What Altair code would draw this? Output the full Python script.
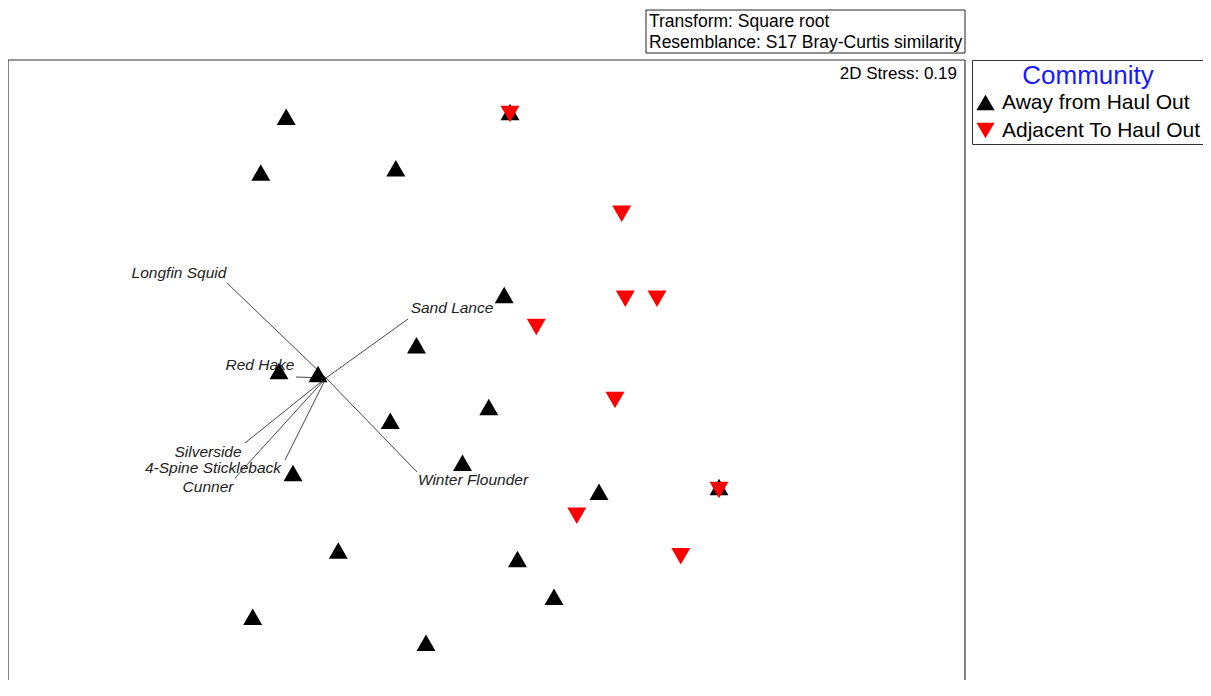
import altair as alt
import pandas as pd

# NMDS coordinates, MDS1 / MDS2
away_x = [-1.009, -1.136, -0.461, 0.11, 0.081, -0.3575, -1.045, -0.85, -0.4885, 0.004,
          -0.1275, -0.975, 0.555, 1.155, -0.7485, 0.1475, 0.33, -1.1765, -0.31]
away_y = [1.2665, 0.9875, 1.0085, 1.29, 0.375, 0.1235, -0.005, -0.02, -0.254, -0.185,
          -0.464, -0.515, -0.6085, -0.585, -0.9025, -0.945, -1.1335, -1.234, -1.364]
adj_x = [0.11, 0.6685, 0.6865, 0.845, 0.2415, 0.635, 1.155, 0.444, 0.964]
adj_y = [1.28, 0.7815, 0.3565, 0.3565, 0.215, -0.15, -0.6, -0.729, -0.931]

groups = ["Away from Haul Out", "Adjacent To Haul Out"]

# Species vectors
vec_names = ["Longfin Squid", "Red Hake", "Silverside", "4-Spine Stickleback",
             "Cunner", "Sand Lance", "Winter Flounder"]
vec_origin = (-0.81, -0.04)
vec_end_x = [-1.305, -0.96, -1.215, -1.015, -1.265, -0.40, -0.355]
vec_end_y = [0.435, -0.035, -0.365, -0.45, -0.54, 0.255, -0.51]
lab_x = [-1.545, -1.14, -1.40, -1.375, -1.40, -0.18, -0.075]
lab_y = [0.485, 0.025, -0.41, -0.49, -0.585, 0.31, -0.55]

stress_text = "2D Stress: 0.19"
info_lines = ["Transform: Square root", "Resemblance: S17 Bray-Curtis similarity"]

x_domain = [-2.4, 2.385]
y_domain = [-1.55, 1.55]

pts = pd.DataFrame({
    "MDS1": away_x + adj_x,
    "MDS2": away_y + adj_y,
    "Community": [groups[0]] * len(away_x) + [groups[1]] * len(adj_x),
})
vecs = pd.DataFrame({
    "name": vec_names,
    "x0": [vec_origin[0]] * len(vec_names),
    "y0": [vec_origin[1]] * len(vec_names),
    "x1": vec_end_x,
    "y1": vec_end_y,
    "lx": lab_x,
    "ly": lab_y,
})
one = alt.Data(values=[{"k": 1}])

FONT = "Liberation Sans"
X = alt.Scale(domain=x_domain, nice=False, zero=False)
Y = alt.Scale(domain=y_domain, nice=False, zero=False)

W, H = 957, 620

frame_l = alt.Chart(one).mark_rule(color="#333", strokeWidth=1.2).encode(
    x=alt.value(0), y=alt.value(0), y2=alt.value(H + 40))
frame_r = alt.Chart(one).mark_rule(color="#333", strokeWidth=1.2).encode(
    x=alt.value(W), y=alt.value(0), y2=alt.value(H + 40))
frame_t = alt.Chart(one).mark_rule(color="#333", strokeWidth=1.2).encode(
    x=alt.value(0), x2=alt.value(W), y=alt.value(0))

vec_lines = alt.Chart(vecs).mark_rule(color="#333", strokeWidth=0.9).encode(
    x=alt.X("x0:Q", scale=X, axis=None),
    y=alt.Y("y0:Q", scale=Y, axis=None),
    x2="x1:Q", y2="y1:Q")

vec_labels = alt.Chart(vecs).mark_text(
    font=FONT, fontSize=15.5, fontStyle="italic", color="#222",
    align="center", baseline="middle").encode(
    x=alt.X("lx:Q", scale=X, axis=None),
    y=alt.Y("ly:Q", scale=Y, axis=None),
    text="name:N")

points = alt.Chart(pts).mark_point(filled=True, opacity=1, size=360, strokeWidth=0).encode(
    x=alt.X("MDS1:Q", scale=X, axis=None),
    y=alt.Y("MDS2:Q", scale=Y, axis=None),
    color=alt.Color("Community:N",
                    scale=alt.Scale(domain=groups, range=["#000000", "#ff0000"]),
                    legend=alt.Legend(title="Community")),
    shape=alt.Shape("Community:N",
                    scale=alt.Scale(domain=groups, range=["triangle-up", "triangle-down"]),
                    legend=alt.Legend(title="Community")),
)

stress = alt.Chart(one).mark_text(
    font=FONT, fontSize=17, color="#000", align="right", baseline="middle",
    text=stress_text).encode(x=alt.value(W - 8), y=alt.value(14))

info_box = alt.Chart(one).mark_rect(fill="white", stroke="#222", strokeWidth=1).encode(
    x=alt.value(638), x2=alt.value(957), y=alt.value(-50), y2=alt.value(-7))
info_t1 = alt.Chart(one).mark_text(
    font=FONT, fontSize=17.5, color="#000", align="left", baseline="middle",
    text=info_lines[0]).encode(x=alt.value(641), y=alt.value(-38))
info_t2 = alt.Chart(one).mark_text(
    font=FONT, fontSize=17.5, color="#000", align="left", baseline="middle",
    text=info_lines[1]).encode(x=alt.value(641), y=alt.value(-17))

chart = alt.layer(
    frame_l, frame_r, frame_t, vec_lines, vec_labels, points, stress,
    info_box, info_t1, info_t2
).properties(
    width=W, height=H,
    autosize=alt.AutoSizeParams(type="none"),
    padding={"left": 0, "top": 52, "right": 238, "bottom": 0},
).configure_view(stroke=None).configure_legend(
    orient="none", legendX=964, legendY=0,
    strokeColor="#333", fillColor="white", padding=3,
    titleFont=FONT, titleFontSize=26, titleFontWeight="normal",
    titleColor="#1a1aff", titleAnchor="middle", titlePadding=3,
    labelFont=FONT, labelFontSize=21, labelColor="#000", labelOffset=6,
    labelLimit=400, symbolSize=330, symbolStrokeWidth=0, rowPadding=6,
)

chart.save("out.html", embed_options={"renderer": "svg", "actions": False})
